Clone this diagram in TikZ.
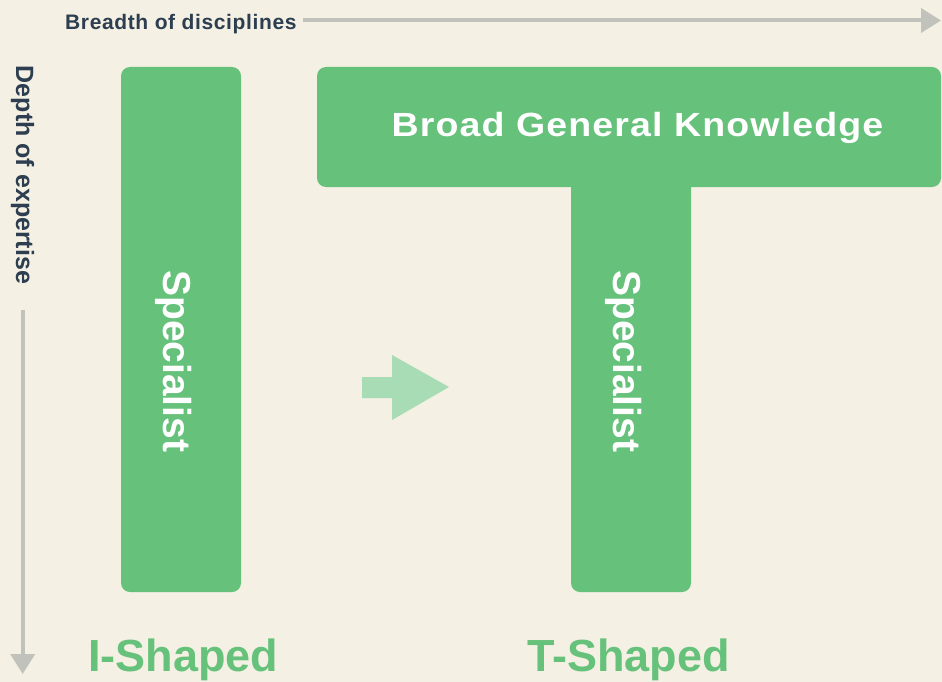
\documentclass[tikz,border=0pt]{standalone}
\usepackage{fontspec}
\setmainfont{Liberation Sans}
\newfontfamily\wide[LetterSpace=3]{Liberation Sans}
\newfontfamily\axisfont[LetterSpace=3]{Liberation Sans}
\usetikzlibrary{arrows.meta}
\definecolor{bg}{HTML}{F4F0E3}
\definecolor{grn}{HTML}{66C17B}
\definecolor{lgrn}{HTML}{A8DCB4}
\definecolor{dark}{HTML}{2D3E50}
\definecolor{axis}{HTML}{C2C2BD}
\begin{document}
\begin{tikzpicture}[x=1pt,y=1pt,
  bar/.style={fill=grn, rounded corners=9pt},
  axislabel/.style={text=dark, inner sep=0pt, font=\bfseries},
  barlabel/.style={text=white, inner sep=0pt, font=\bfseries\fontsize{39}{44}\selectfont},
  shapelabel/.style={text=grn, inner sep=0pt, font=\bfseries\fontsize{45}{50}\selectfont},
  axisline/.style={draw=axis, line width=4pt, -{Triangle[length=20pt,width=24pt]}}]
\fill[bg] (0,0) rectangle (942,-682);
\useasboundingbox (0,0) rectangle (942,-682);
% bars
\fill[bar] (121,-67) rectangle (241,-592);
\fill[bar] (571,-170) rectangle (691,-592);
\fill[bar] (317,-67) rectangle (941,-187);
% transition arrow
\fill[lgrn] (362,-377) -- (392,-377) -- (392,-355) -- (449,-387) -- (392,-420) -- (392,-398) -- (362,-398) -- cycle;
% labels
\node[axislabel, font=\bfseries\axisfont\fontsize{21}{25}\selectfont, anchor=base west] (breadth) at (65,-30) {Breadth of disciplines};
\node[axislabel, font=\bfseries\fontsize{25}{30}\selectfont, rotate=-90, anchor=center] (depth) at (22.7,-175) {Depth of expertise};
\node[text=white, inner sep=0pt, font=\bfseries\wide\fontsize{33.5}{40}\selectfont, anchor=base] (broad) at (637.5,-136) {\scalebox{1.12}[1]{Broad General Knowledge}};
\node[barlabel, rotate=-90, anchor=base west] (specI) at (163,-270) {Specialist};
\node[barlabel, rotate=-90, anchor=base west] (specT) at (613,-270) {Specialist};
\node[shapelabel, anchor=base west] (ishaped) at (88,-671) {I-Shaped};
\node[shapelabel, anchor=base west] (tshaped) at (527,-671) {T-Shaped};
% axes
\coordinate (hstart) at (303,-20.5);
\coordinate (hend) at (941,-20.5);
\coordinate (vstart) at (22.7,-310);
\coordinate (vend) at (22.7,-674);
\draw[axisline] (hstart) -- (hend);
\draw[axisline] (vstart) -- (vend);
\end{tikzpicture}
\end{document}
